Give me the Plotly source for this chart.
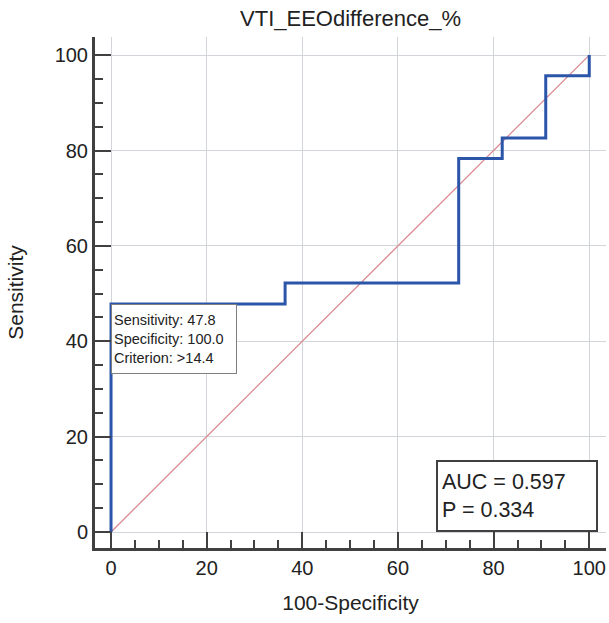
import plotly.graph_objects as go

# ROC step curve data (100-Specificity, Sensitivity)
fpr = [0, 0, 36.4, 36.4, 72.7, 72.7, 81.8, 81.8, 90.9, 90.9, 100, 100]
sens = [0, 47.8, 47.8, 52.2, 52.2, 78.3, 78.3, 82.6, 82.6, 95.7, 95.7, 100]
diag_x = [0, 100]
diag_y = [0, 100]
tick_vals = [0, 20, 40, 60, 80, 100]
tick_text = ["0", "20", "40", "60", "80", "100"]

title_text = "VTI_EEOdifference_%"
criterion_text = "Sensitivity: 47.8<br>Specificity: 100.0<br>Criterion: >14.4"
auc_text = "AUC = 0.597<br>P = 0.334"

FONT = "Liberation Sans, Arial, sans-serif"

fig = go.Figure()
fig.add_trace(go.Scatter(x=diag_x, y=diag_y, mode="lines",
                         line=dict(color="#d9898f", width=1.3), hoverinfo="skip"))
fig.add_trace(go.Scatter(x=fpr, y=sens, mode="lines",
                         line=dict(color="#2b55a8", width=3), hoverinfo="skip"))

axis_common = dict(
    tickvals=tick_vals, ticktext=tick_text,
    showline=True, linecolor="#404040", linewidth=3,
    ticks="inside", ticklen=16, tickwidth=2, tickcolor="#404040",
    minor=dict(ticks="inside", ticklen=8, tickwidth=2, tickcolor="#404040",
               dtick=5, showgrid=False),
    showgrid=True, gridcolor="#d2d6da", gridwidth=1, griddash="solid",
    zeroline=False,
    tickfont=dict(family=FONT, size=20, color="#222222"),
    title_font=dict(family=FONT, size=21, color="#222222"),
    mirror=False,
)

fig.update_xaxes(range=[-3.35, 103.5], title_text="100-Specificity",
                 title_standoff=18, **axis_common)
fig.update_yaxes(range=[-3.35, 103.8], title_text="Sensitivity",
                 title_standoff=26, **axis_common)

fig.add_annotation(x=0, y=47.8, xref="x", yref="y", xanchor="left", yanchor="top",
                   text=criterion_text, showarrow=False, align="left",
                   font=dict(family=FONT, size=14.5, color="#222222"),
                   bgcolor="white", bordercolor="#808080", borderwidth=1,
                   borderpad=2, width=120, height=64, valign="middle")

fig.add_annotation(x=68, y=15.1, xref="x", yref="y", xanchor="left", yanchor="top",
                   text=auc_text, showarrow=False, align="left",
                   font=dict(family=FONT, size=21.5, color="#222222"),
                   bgcolor="white", bordercolor="#404040", borderwidth=2,
                   borderpad=4, width=150, height=60, valign="middle")

fig.update_layout(
    width=609, height=623,
    margin=dict(l=95, r=3, t=37, b=75),
    paper_bgcolor="white", plot_bgcolor="white",
    showlegend=False,
    title=dict(text=title_text, x=0.5, xref="paper", y=0.971, yref="container",
               yanchor="middle",
               font=dict(family=FONT, size=22, color="#222222")),
)

fig.write_html("out.html")
